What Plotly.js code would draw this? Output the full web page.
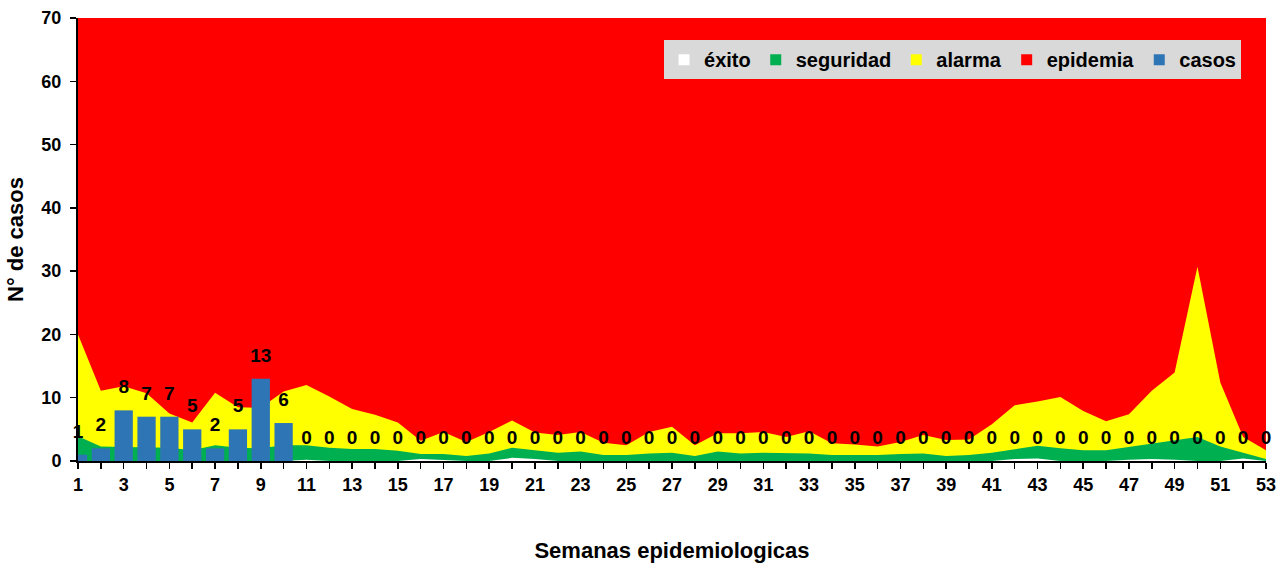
<!DOCTYPE html>
<html>
<head>
<meta charset="utf-8">
<script src="https://cdn.plot.ly/plotly-3.0.1.min.js"></script>
<style>
  html, body { margin: 0; padding: 0; background: #ffffff; }
  #chart { width: 1281px; height: 566px; }
</style>
</head>
<body>
<div id="chart"></div>
<script>
// Semanas epidemiológicas 1..53
const semanas = [1,2,3,4,5,6,7,8,9,10,11,12,13,14,15,16,17,18,19,20,21,22,23,24,25,26,27,28,29,30,31,32,33,34,35,36,37,38,39,40,41,42,43,44,45,46,47,48,49,50,51,52,53];

// Canal endémico
const exito = [0,0,0,0,0,0,0,0,0,0, 0.2,0,0,0,0,0.3,0.1,0,0,0.5, 0.3,0,0,0,0,0,0,0,0,0, 0,0,0,0,0,0,0,0,0,0, 0,0.3,0.4,0,0,0,0.2,0.3,0.2,0, 0,0.4,0];
const seguridad = [3.9,2.3,2.2,2.2,2.1,1.7,2.5,2.1,2.0,2.5, 2.5,2.1,1.9,1.9,1.6,1.1,1.1,0.8,1.2,2.1, 1.7,1.3,1.5,0.95,0.95,1.2,1.3,0.8,1.5,1.2, 1.3,1.2,1.2,0.95,0.95,0.95,1.1,1.2,0.8,0.95, 1.3,1.8,2.4,2.0,1.7,1.7,2.2,2.8,3.2,3.8, 2.3,1.3,0.3];
const alarma = [20,11.1,11.8,10.7,7.5,6.1,10.8,8.5,8.4,11, 12,10.2,8.2,7.3,6.1,3.2,4.6,3.0,4.6,6.4, 4.5,4.1,4.6,2.9,2.5,4.6,5.4,2.5,4.4,4.4, 4.6,3.8,4.7,2.8,2.6,2.3,3.0,4.1,3.3,3.4, 5.8,8.8,9.4,10.1,7.9,6.3,7.4,11.1,14.0,30.7, 12.4,3.8,1.7];
const epidemia = [70,70,70,70,70,70,70,70,70,70, 70,70,70,70,70,70,70,70,70,70, 70,70,70,70,70,70,70,70,70,70, 70,70,70,70,70,70,70,70,70,70, 70,70,70,70,70,70,70,70,70,70, 70,70,70];

// Casos notificados
const casos = [1,2,8,7,7,5,2,5,13,6, 0,0,0,0,0,0,0,0,0,0, 0,0,0,0,0,0,0,0,0,0, 0,0,0,0,0,0,0,0,0,0, 0,0,0,0,0,0,0,0,0,0, 0,0,0];

const xTickVals = [1,3,5,7,9,11,13,15,17,19,21,23,25,27,29,31,33,35,37,39,41,43,45,47,49,51,53];
const xTickText = xTickVals.map(String);

const FONT = 'Liberation Sans, Arial, sans-serif';
const C_EXITO = '#FFFFFF', C_SEG = '#00B050', C_ALA = '#FFFF00', C_EPI = '#FF0000', C_CAS = '#2E75B6';

function area(name, y, color) {
  return {
    type: 'scatter', mode: 'lines', name: name, x: semanas, y: y,
    fill: 'tozeroy', fillcolor: color, line: {width: 0, color: color},
    showlegend: false, hoverinfo: 'skip'
  };
}
function key(name, color) {
  return {
    type: 'scatter', mode: 'markers', name: name, x: [null], y: [null],
    marker: {symbol: 'square', size: 11, color: color, line: {width: 0}},
    showlegend: true, hoverinfo: 'skip'
  };
}

const data = [
  area('epidemia', epidemia, C_EPI),
  area('alarma', alarma, C_ALA),
  area('seguridad', seguridad, C_SEG),
  area('éxito', exito, C_EXITO),
  {
    type: 'bar', name: 'casos', x: semanas, y: casos, width: 0.8, xaxis: 'x2', yaxis: 'y',
    marker: {color: C_CAS, line: {width: 0}}, showlegend: false, hoverinfo: 'skip'
  },
  {
    type: 'scatter', mode: 'markers+text', x: semanas, y: casos, text: casos.map(String),
    xaxis: 'x2', yaxis: 'y',
    textposition: 'top center', cliponaxis: false,
    marker: {size: 18, color: 'rgba(0,0,0,0)'},
    textfont: {family: FONT, size: 19, color: '#000000', weight: 'bold'},
    showlegend: false, hoverinfo: 'skip'
  },
  key('éxito', C_EXITO),
  key('seguridad', C_SEG),
  key('alarma', C_ALA),
  key('epidemia', C_EPI),
  key('casos', C_CAS)
];

const layout = {
  width: 1281, height: 566,
  margin: {l: 78, r: 15, t: 18, b: 105},
  paper_bgcolor: '#FFFFFF', plot_bgcolor: '#FFFFFF',
  font: {family: FONT, color: '#000000'},
  barmode: 'overlay',
  xaxis: {
    range: [1, 53], tickmode: 'array', tickvals: xTickVals, ticktext: xTickText,
    ticks: 'outside', ticklen: 6, tickwidth: 1.5, tickcolor: '#000000',
    minor: {tick0: 1, dtick: 1, ticks: 'outside', ticklen: 6, tickwidth: 1.5, tickcolor: '#000000', showgrid: false},
    showline: true, linecolor: '#000000', linewidth: 2, showgrid: false, zeroline: false,
    tickfont: {family: FONT, size: 18, weight: 'bold', color: '#000000'},
    title: {text: 'Semanas epidemiologicas', font: {family: FONT, size: 22, weight: 'bold', color: '#000000'}, standoff: 49},
    automargin: false, layer: 'above traces'
  },
  xaxis2: {
    range: [1, 53], overlaying: 'x', anchor: 'y', visible: false, showgrid: false, zeroline: false
  },
  yaxis: {
    range: [0, 70], dtick: 10, tick0: 0,
    ticks: 'outside', ticklen: 6, tickwidth: 1.5, tickcolor: '#000000', ticklabelstandoff: 5,
    showline: true, linecolor: '#000000', linewidth: 2, showgrid: false, zeroline: false,
    tickfont: {family: FONT, size: 18, weight: 'bold', color: '#000000'},
    title: {text: 'N° de casos', font: {family: FONT, size: 22, weight: 'bold', color: '#000000'}, standoff: 12},
    automargin: false, layer: 'above traces'
  },
  legend: {
    orientation: 'h', x: 0.979, xanchor: 'right', y: 0.95, yanchor: 'top',
    bgcolor: '#D9D9D9', borderwidth: 0,
    font: {family: FONT, size: 20, weight: 'bold', color: '#000000'},
    traceorder: 'normal', itemwidth: 30
  }
};

Plotly.newPlot('chart', data, layout, {staticPlot: true, displayModeBar: false});
</script>
</body>
</html>
